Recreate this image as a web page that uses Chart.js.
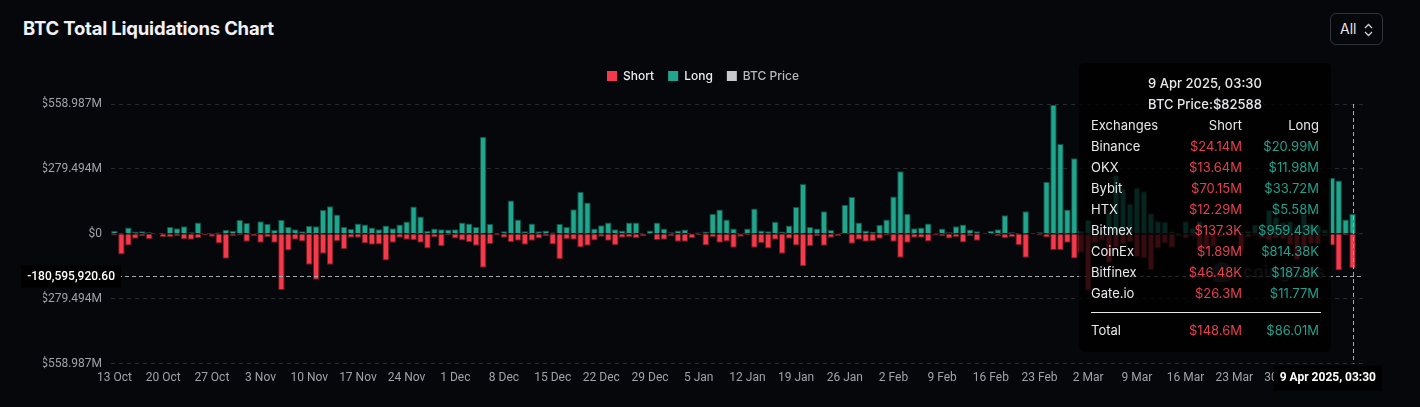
<!DOCTYPE html>
<html>
<head>
<meta charset="utf-8">
<script src="https://cdn.jsdelivr.net/npm/chart.js@4.4.1/dist/chart.umd.min.js"></script>
<style>
  html, body { margin: 0; padding: 0; background: #05070b; }
  body { width: 1420px; height: 407px; position: relative; overflow: hidden; font-family: Inter, "Noto Sans", sans-serif; }
  #title { position: absolute; left: 23px; top: 17px; color: #f1f1f3; font-size: 18.5px; font-weight: 700; letter-spacing: -0.2px; }
  #range { position: absolute; left: 1330px; top: 13px; width: 53px; height: 32px; border: 1px solid #30333a; border-radius: 6px; box-sizing: border-box; color: #e4e4e6; font-size: 14px; line-height: 30px; padding-left: 9px; }
  #range svg { position: absolute; left: 33px; top: 9px; }
  #wrap { position: absolute; left: 0; top: 0; width: 1420px; height: 407px; }
  #mark { position: absolute; left: 1213px; top: 262px; color: rgba(120,120,125,0.55); font-size: 17px; font-weight: 700; letter-spacing: 0.2px; }
  #mark i { display: inline-block; width: 18px; height: 20px; border-radius: 9px 9px 4px 4px; background: rgba(120,120,125,0.55); vertical-align: -4px; margin-right: 12px; }
  #tip { position: absolute; left: 1079px; top: 63px; width: 252px; height: 289px; background: rgba(0,0,0,0.78); border-radius: 5px; box-sizing: border-box; padding: 10px 12px 0 12px; color: #e8e8ea; font-size: 13px; }
  #tip .c { text-align: center; height: 21px; line-height: 21px; font-weight: 500; }
  #tip .r { display: flex; height: 21px; line-height: 21px; }
  #tip .r span:nth-child(1) { width: 71px; }
  #tip .r span:nth-child(2) { width: 80px; text-align: right; }
  #tip .r span:nth-child(3) { width: 77px; text-align: right; }
  #tip .s { color: #e5404d; }
  #tip .l { color: #22a08b; }
  #tip hr { border: 0; border-top: 1px solid #e8e8ea; margin: 8px 0 7px 0; width: 230px; }
</style>
</head>
<body>
<div id="title">BTC Total Liquidations Chart</div>
<div id="range">All<svg width="9" height="14" viewBox="0 0 9 14"><path d="M1 5 L4.5 1.5 L8 5 M1 9 L4.5 12.5 L8 9" stroke="#cfcfd2" stroke-width="1.3" fill="none"/></svg></div>
<div id="wrap"><canvas id="myChart"></canvas></div>
<div id="mark"><i></i>coinglass</div>
<div id="tip"></div>
<script>
// daily buckets, 13 Oct 2024 .. 10 Apr 2025
const startDate = new Date(2024, 9, 13);
const dayCount = 180;
const monthNames = ["Jan", "Feb", "Mar", "Apr", "May", "Jun", "Jul", "Aug", "Sep", "Oct", "Nov", "Dec"];
const dates = [];
for (let i = 0; i < dayCount; i++) {
  const d = new Date(startDate.getFullYear(), startDate.getMonth(), startDate.getDate() + i);
  dates.push(d.getDate() + " " + monthNames[d.getMonth()]);
}

// long liquidations, $M
const longM = [
  13, 4, 27, 10, 11, 7, 3, 0.5, 29, 24, 32, 7, 49, 1, 0.5, 6, 17, 13, 59, 46,
  3, 54, 43, 16, 60, 29, 20, 11, 34, 33, 102, 119, 83, 30, 21, 44, 40, 27, 20, 36,
  24, 40, 53, 118, 75, 13, 23, 20, 19, 20, 49, 44, 29, 418, 43, 4, 11, 143, 62, 11,
  44, 11, 14, 6, 43, 29, 106, 181, 135, 23, 37, 49, 20, 14, 49, 49, 1, 14, 49, 23,
  7, 14, 19, 3, 6, 10, 86, 105, 62, 23, 4, 23, 109, 14, 11, 52, 10, 36, 115, 214,
  29, 23, 97, 16, 3, 125, 159, 49, 14, 9, 39, 62, 161, 269, 86, 24, 27, 44, 3, 23,
  7, 32, 40, 19, 11, 2, 13, 20, 80, 7, 1, 97, 2, 7, 224, 556, 387, 105, 325, 12,
  60, 8, 15, 90, 252, 195, 130, 198, 183, 87, 54, 52, 11, 5, 54, 25, 54, 10, 8, 10,
  12, 5, 10, 12, 40, 15, 102, 73, 50, 54, 30, 87, 45, 37, 20, 241, 229, 62, 86.01, 3
];
// short liquidations, $M (drawn below zero)
const shortM = [
  7, 89, 50, 21, 10, 23, 3, 14, 14, 10, 23, 26, 19, 7, 13, 42, 107, 9, 7, 34,
  9, 39, 14, 39, 242, 72, 26, 33, 133, 198, 86, 133, 32, 67, 17, 17, 42, 47, 46, 115,
  39, 17, 26, 28, 39, 63, 16, 54, 7, 20, 29, 36, 52, 146, 44, 7, 17, 36, 30, 47,
  30, 20, 11, 46, 110, 24, 26, 59, 52, 29, 13, 30, 49, 17, 14, 19, 11, 3, 27, 26,
  11, 34, 34, 19, 6, 50, 14, 39, 33, 60, 13, 6, 60, 40, 63, 26, 86, 21, 50, 140,
  53, 11, 52, 17, 9, 2, 43, 26, 34, 32, 21, 7, 34, 103, 39, 17, 17, 33, 7, 10,
  20, 14, 37, 9, 30, 1, 3, 9, 19, 14, 49, 103, 2, 6, 16, 70, 70, 39, 106, 82,
  245, 40, 30, 125, 60, 45, 35, 100, 106, 156, 63, 42, 60, 10, 20, 12, 70, 70, 56, 15,
  10, 8, 75, 15, 8, 20, 30, 20, 25, 49, 113, 63, 45, 45, 10, 50, 158, 6, 148.6, 0.5
];
const btcPrice = [];

const yTicks = [-558987200, -279493600, 0, 279493600, 558987200];
const hoverIndex = 178;
const hoverValue = -180595920.60;
const hoverLabel = "9 Apr 2025, 03:30";

const exchanges = ["Binance", "OKX", "Bybit", "HTX", "Bitmex", "CoinEx", "Bitfinex", "Gate.io"];
const tipShort = ["$24.14M", "$13.64M", "$70.15M", "$12.29M", "$137.3K", "$1.89M", "$46.48K", "$26.3M"];
const tipLong = ["$20.99M", "$11.98M", "$33.72M", "$5.58M", "$959.43K", "$814.38K", "$187.8K", "$11.77M"];
const tipTotal = ["$148.6M", "$86.01M"];
const tipPrice = "$82588";

//tooltip box, pinned on the hovered day
let html = '<div class="c">' + hoverLabel + '</div><div class="c">BTC Price:' + tipPrice + '</div>';
html += '<div class="r"><span>Exchanges</span><span>Short</span><span>Long</span></div>';
exchanges.forEach((ex, i) => {
  html += '<div class="r"><span>' + ex + '</span><span class="s">' + tipShort[i] + '</span><span class="l">' + tipLong[i] + '</span></div>';
});
html += '<hr><div class="r"><span>Total</span><span class="s">' + tipTotal[0] + '</span><span class="l">' + tipTotal[1] + '</span></div>';
document.getElementById("tip").innerHTML = html;

const RED = "#f4394a";
const GREEN = "#21a68e";

const legendPad = {
  id: "legendPad",
  beforeInit(chart) {
    const fit = chart.legend.fit;
    chart.legend.fit = function () {
      fit.bind(chart.legend)();
      this.height += 12;
    };
  }
};

//dashed crosshair + axis value boxes
const crosshair = {
  id: "crosshair",
  afterDraw(chart) {
    const { ctx, chartArea: a, scales: { x, y } } = chart;
    const px = Math.round(x.getPixelForValue(hoverIndex)) + 0.5;
    const py = Math.round(y.getPixelForValue(hoverValue)) + 0.5;
    ctx.save();
    ctx.strokeStyle = "#a8a8ac";
    ctx.lineWidth = 1;
    ctx.setLineDash([4, 3]);
    ctx.beginPath();
    ctx.moveTo(px, a.top);
    ctx.lineTo(px, a.bottom);
    ctx.moveTo(a.left, py);
    ctx.lineTo(a.right, py);
    ctx.stroke();
    ctx.setLineDash([]);

    ctx.font = "500 12px Roboto";
    ctx.textBaseline = "middle";
    ctx.textAlign = "center";
    const yTxt = hoverValue.toLocaleString("en-US", { minimumFractionDigits: 2, maximumFractionDigits: 2 });
    const yw = ctx.measureText(yTxt).width + 12;
    ctx.fillStyle = "#000";
    ctx.fillRect(a.left + 10 - yw, py - 11, yw, 22);
    ctx.fillStyle = "#fff";
    ctx.fillText(yTxt, a.left + 10 - yw / 2, py);

    ctx.font = "bold 12px Roboto";
    const xw = ctx.measureText(hoverLabel).width + 12;
    const bx = Math.min(px - xw / 2, a.right + 19 - xw);
    ctx.fillStyle = "#000";
    ctx.fillRect(bx, a.bottom + 2, xw, 25);
    ctx.fillStyle = "#fff";
    ctx.fillText(hoverLabel, bx + xw / 2, a.bottom + 14);
    ctx.restore();
  }
};

const data = {
  labels: dates,
  datasets: [
    {
      label: "Short",
      data: shortM.map(v => -v * 1e6),
      backgroundColor: RED,
      borderColor: "#6e1a22",
      borderWidth: 1,
      borderSkipped: "start",
      barPercentage: 0.94,
      categoryPercentage: 1,
    },
    {
      label: "Long",
      data: longM.map(v => v * 1e6),
      backgroundColor: GREEN,
      borderColor: "#114e43",
      borderWidth: 1,
      borderSkipped: "start",
      barPercentage: 0.94,
      categoryPercentage: 1,
    },
    {
      label: "BTC Price",
      type: "line",
      data: btcPrice,
      backgroundColor: "#c9c9cb",
      borderColor: "#c9c9cb",
    },
  ],
};

const config = {
  type: "bar",
  data: data,
  options: {
    responsive: true,
    maintainAspectRatio: false,
    animation: false,
    layout: { padding: { left: 43, right: 57, top: 56, bottom: 15 } },
    plugins: {
      tooltip: { enabled: false },
      legend: {
        position: "top",
        labels: {
          boxWidth: 10,
          boxHeight: 10,
          padding: 14,
          font: { family: "Inter", size: 12, weight: "500" },
          generateLabels(chart) {
            const items = Chart.defaults.plugins.legend.labels.generateLabels(chart);
            const textColors = ["#ececee", "#ececee", "#b9b9bd"];
            items.sort((p, q) => p.datasetIndex - q.datasetIndex);
            items.forEach(it => {
              it.fontColor = textColors[it.datasetIndex];
              it.lineWidth = 0;
              it.strokeStyle = "transparent";
              it.fillStyle = chart.data.datasets[it.datasetIndex].backgroundColor;
            });
            return items;
          },
        },
      },
    },
    scales: {
      x: {
        stacked: true,
        grid: { display: false, drawTicks: false },
        border: { display: false },
        ticks: {
          autoSkip: false,
          maxRotation: 0,
          padding: 7,
          color: "#a0a2a9",
          font: { family: "Roboto", size: 12 },
          callback: (v, i) => (i % 7 === 0 ? dates[i] : ""),
        },
      },
      y: {
        stacked: true,
        min: yTicks[0],
        max: yTicks[yTicks.length - 1],
        afterFit(scale) { scale.width = 68; },
        afterBuildTicks(scale) { scale.ticks = yTicks.map(v => ({ value: v })); },
        grid: { color: "#2a2c32", drawTicks: false },
        border: { display: false, dash: [4, 4] },
        ticks: {
          padding: 9,
          color: "#a0a2a9",
          font: { family: "Roboto", size: 12 },
          callback: v => (v === 0 ? "$0" : "$" + (Math.abs(v) / 1e6).toFixed(3) + "M"),
        },
      },
    },
  },
  plugins: [legendPad, crosshair],
};

const myChart = new Chart(document.getElementById("myChart"), config);
</script>
</body>
</html>
